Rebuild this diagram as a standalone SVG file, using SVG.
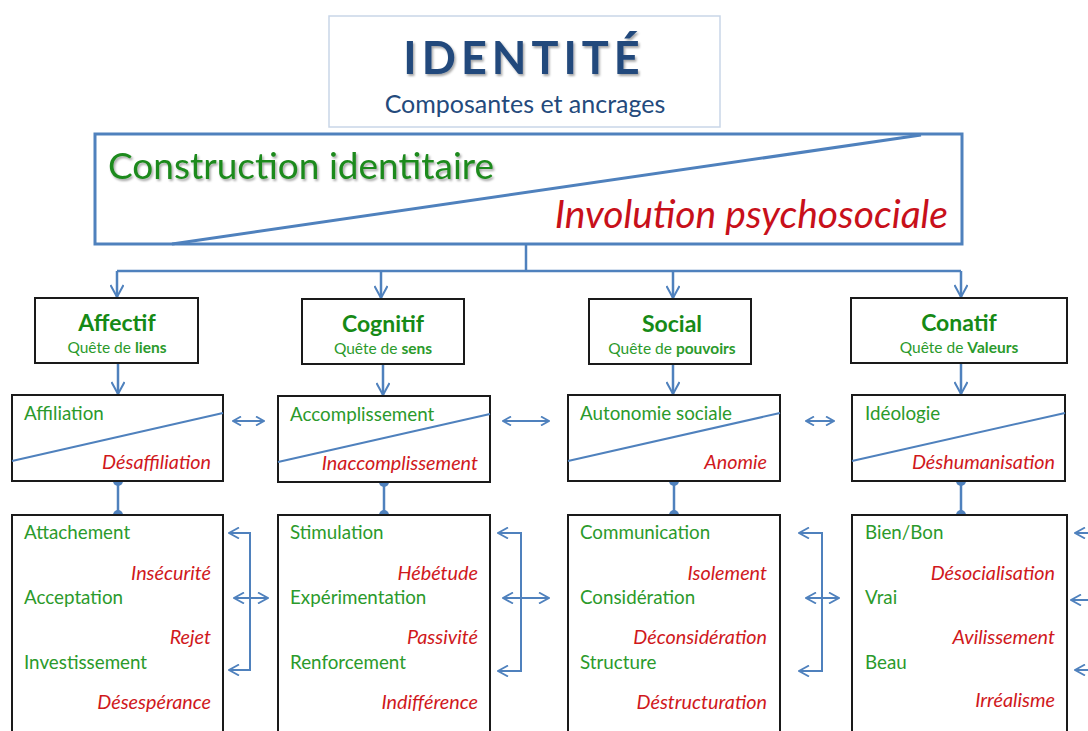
<svg xmlns="http://www.w3.org/2000/svg" width="1088" height="731" viewBox="0 0 1088 731">
<defs>
<style>
.f{font-family:Lato,"Liberation Sans",sans-serif}
.g{fill:#2b9a2b;font-size:18.8px}
.r{fill:#d0181c;font-size:19.8px;font-style:italic;text-anchor:end}
.cat{fill:#168a16;font-size:23px;font-weight:bold;text-anchor:middle}
.sub{fill:#2b9a2b;font-size:15.5px;text-anchor:middle}
.box{fill:#fff;stroke:#1a1a1a;stroke-width:2}
.dg{stroke:#4f81bd;stroke-width:2;fill:none}
.cn{stroke:#4f81bd;stroke-width:2.5;fill:none}
.dot{fill:#4f81bd}
</style>
<marker id="ah" viewBox="0 0 14 14" refX="13" refY="7" markerWidth="14" markerHeight="14" orient="auto-start-reverse" markerUnits="userSpaceOnUse"><path d="M1,0.5 L13,7 L1,13.5" fill="none" stroke="#4f81bd" stroke-width="2"/></marker>
<marker id="as" viewBox="0 0 10 10" refX="9" refY="5" markerWidth="10" markerHeight="10" orient="auto-start-reverse" markerUnits="userSpaceOnUse"><path d="M1,0.5 L9,5 L1,9.5" fill="none" stroke="#4f81bd" stroke-width="1.8"/></marker>
<marker id="am" viewBox="0 0 12 12" refX="11" refY="6" markerWidth="12" markerHeight="12" orient="auto-start-reverse" markerUnits="userSpaceOnUse"><path d="M1,0.5 L11,6 L1,11.5" fill="none" stroke="#4f81bd" stroke-width="1.8"/></marker>
<filter id="sh" x="-5%" y="-20%" width="110%" height="150%"><feDropShadow dx="1.5" dy="2" stdDeviation="1.2" flood-color="#000" flood-opacity="0.35"/></filter>
</defs>
<rect width="1088" height="731" fill="#fff"/>

<g id="title">
<rect x="329" y="16" width="391" height="111" fill="#fff" stroke="#c9d6e8" stroke-width="1.5"/>
<text class="f" x="524" y="74" text-anchor="middle" font-size="45" font-weight="bold" letter-spacing="5" fill="#244a7c" filter="url(#sh)">IDENTITÉ</text>
<text class="f" x="525" y="113" text-anchor="middle" font-size="25" fill="#244a7c">Composantes et ancrages</text>
</g>

<g id="main">
<rect x="95" y="134" width="867" height="110" fill="#fff" stroke="#4f81bd" stroke-width="3"/>
<line x1="172" y1="244" x2="921" y2="135" stroke="#4f81bd" stroke-width="3"/>
<text class="f" x="108" y="179" font-size="37" fill="#1e8a1e" filter="url(#sh)">Construction identitaire</text>
<text class="f" x="948" y="228" font-size="39" font-style="italic" fill="#c8101a" text-anchor="end">Involution psychosociale</text>
</g>

<g id="connectors">
<polyline class="cn" points="526,244 526,271"/>
<polyline class="cn" points="117,271 961,271"/>
<line class="cn" x1="117" y1="271" x2="117" y2="297" marker-end="url(#ah)"/>
<line class="cn" x1="381" y1="271" x2="381" y2="298" marker-end="url(#ah)"/>
<line class="cn" x1="673" y1="271" x2="673" y2="298" marker-end="url(#ah)"/>
<line class="cn" x1="961" y1="271" x2="961" y2="297" marker-end="url(#ah)"/>
<line class="cn" x1="118" y1="363" x2="118" y2="394" marker-end="url(#ah)"/>
<line class="cn" x1="383" y1="364" x2="383" y2="395" marker-end="url(#ah)"/>
<line class="cn" x1="673" y1="364" x2="673" y2="394" marker-end="url(#ah)"/>
<line class="cn" x1="961" y1="363" x2="961" y2="394" marker-end="url(#ah)"/>
<line class="dg" x1="233" y1="421" x2="264" y2="421" marker-start="url(#as)" marker-end="url(#as)"/>
<line class="dg" x1="503" y1="421" x2="549" y2="421" marker-start="url(#as)" marker-end="url(#as)"/>
<line class="dg" x1="806" y1="421" x2="834" y2="421" marker-start="url(#as)" marker-end="url(#as)"/>
<line class="cn" x1="118" y1="481" x2="118" y2="515"/>
<circle class="dot" cx="118" cy="481" r="5"/><circle class="dot" cx="118" cy="515" r="5"/>
<line class="cn" x1="384" y1="482" x2="384" y2="515"/>
<circle class="dot" cx="384" cy="482" r="5"/><circle class="dot" cx="384" cy="515" r="5"/>
<line class="cn" x1="674" y1="481" x2="674" y2="515"/>
<circle class="dot" cx="674" cy="481" r="5"/><circle class="dot" cx="674" cy="515" r="5"/>
<line class="cn" x1="961" y1="481" x2="961" y2="515"/>
<circle class="dot" cx="961" cy="481" r="5"/><circle class="dot" cx="961" cy="515" r="5"/>
<path class="dg" d="M229,533 H250 V670 H229" marker-start="url(#am)" marker-end="url(#am)"/>
<line class="dg" x1="234" y1="598" x2="268" y2="598" marker-start="url(#am)" marker-end="url(#am)"/>
<path class="dg" d="M498,533 H521 V671 H498" marker-start="url(#am)" marker-end="url(#am)"/>
<line class="dg" x1="503" y1="598" x2="549" y2="598" marker-start="url(#am)" marker-end="url(#am)"/>
<path class="dg" d="M799,533 H822 V671 H799" marker-start="url(#am)" marker-end="url(#am)"/>
<line class="dg" x1="806" y1="598" x2="839" y2="598" marker-start="url(#am)" marker-end="url(#am)"/>
<line class="dg" x1="1075" y1="533" x2="1095" y2="533" marker-start="url(#am)"/>
<line class="dg" x1="1071" y1="600" x2="1100" y2="600" marker-start="url(#am)"/>
<line class="dg" x1="1075" y1="670" x2="1095" y2="670" marker-start="url(#am)"/>
</g>

<g id="affectif">
<rect class="box" x="35" y="298" width="163" height="65"/>
<text class="f cat" x="117" y="331">Affectif</text>
<text class="f sub" x="117" y="353">Quête de <tspan font-weight="bold">liens</tspan></text>
</g>
<g id="cognitif">
<rect class="box" x="302" y="299" width="162" height="65"/>
<text class="f cat" x="383" y="332">Cognitif</text>
<text class="f sub" x="383" y="354">Quête de <tspan font-weight="bold">sens</tspan></text>
</g>
<g id="social">
<rect class="box" x="589" y="299" width="162" height="65"/>
<text class="f cat" x="672" y="332">Social</text>
<text class="f sub" x="672" y="354">Quête de <tspan font-weight="bold">pouvoirs</tspan></text>
</g>
<g id="conatif">
<rect class="box" x="851" y="298" width="216" height="65"/>
<text class="f cat" x="959" y="331">Conatif</text>
<text class="f sub" x="959" y="353">Quête de <tspan font-weight="bold">Valeurs</tspan></text>
</g>

<g id="affiliation">
<rect class="box" x="12" y="395" width="211" height="86"/>
<line class="dg" x1="12" y1="461" x2="223" y2="413"/>
<text class="f g" x="24" y="420">Affiliation</text>
<text class="f r" x="211" y="469">Désaffiliation</text>
</g>
<g id="accomplissement">
<rect class="box" x="278" y="396" width="212" height="86"/>
<line class="dg" x1="278" y1="462" x2="490" y2="414"/>
<text class="f g" x="290" y="421">Accomplissement</text>
<text class="f r" x="478" y="470">Inaccomplissement</text>
</g>
<g id="autonomie">
<rect class="box" x="568" y="395" width="212" height="86"/>
<line class="dg" x1="568" y1="461" x2="780" y2="413"/>
<text class="f g" x="580" y="420">Autonomie sociale</text>
<text class="f r" x="767" y="469">Anomie</text>
</g>
<g id="ideologie">
<rect class="box" x="852" y="395" width="213" height="86"/>
<line class="dg" x1="852" y1="461" x2="1065" y2="413"/>
<text class="f g" x="865" y="420">Idéologie</text>
<text class="f r" x="1055" y="469">Déshumanisation</text>
</g>

<g id="liens">
<rect class="box" x="12" y="515" width="211" height="230"/>
<text class="f g" x="24" y="539">Attachement</text>
<text class="f r" x="211" y="580">Insécurité</text>
<text class="f g" x="24" y="604">Acceptation</text>
<text class="f r" x="211" y="644">Rejet</text>
<text class="f g" x="24" y="669">Investissement</text>
<text class="f r" x="211" y="709">Désespérance</text>
</g>
<g id="sens">
<rect class="box" x="278" y="515" width="212" height="230"/>
<text class="f g" x="290" y="539">Stimulation</text>
<text class="f r" x="478" y="580">Hébétude</text>
<text class="f g" x="290" y="604">Expérimentation</text>
<text class="f r" x="478" y="644">Passivité</text>
<text class="f g" x="290" y="669">Renforcement</text>
<text class="f r" x="478" y="709">Indifférence</text>
</g>
<g id="pouvoirs">
<rect class="box" x="568" y="515" width="212" height="230"/>
<text class="f g" x="580" y="539">Communication</text>
<text class="f r" x="767" y="580">Isolement</text>
<text class="f g" x="580" y="604">Considération</text>
<text class="f r" x="767" y="644">Déconsidération</text>
<text class="f g" x="580" y="669">Structure</text>
<text class="f r" x="767" y="709">Déstructuration</text>
</g>
<g id="valeurs">
<rect class="box" x="852" y="515" width="215" height="230"/>
<text class="f g" x="865" y="539">Bien/Bon</text>
<text class="f r" x="1055" y="580">Désocialisation</text>
<text class="f g" x="865" y="604">Vrai</text>
<text class="f r" x="1055" y="644">Avilissement</text>
<text class="f g" x="865" y="669">Beau</text>
<text class="f r" x="1055" y="707">Irréalisme</text>
</g>
</svg>
